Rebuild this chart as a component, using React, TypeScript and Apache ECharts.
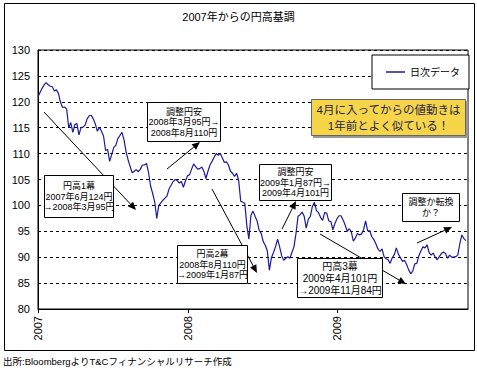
import React, { useEffect, useRef } from "react";
import * as echarts from "echarts";

// ---- data ----
const TITLE = "2007年からの円高基調";
const SERIES_NAME = "日次データ";
const START_DATE = "2007-06-01";
const END_DATE = "2010-04-16";
const STEP_DAYS = 5;
// USD/JPY, sampled every 5 days from START_DATE
const yenRates = [
  121.0, 121.8, 122.6, 123.3, 123.7, 123.3, 123.0, 122.9, 122.1, 122.3,
  121.6, 119.9, 118.9, 119.0, 118.6, 115.0, 116.0, 114.1, 115.6, 115.8,
  113.6, 115.0, 115.1, 115.5, 116.7, 117.3, 117.4, 116.7, 115.7, 114.3,
  115.1, 114.3, 113.4, 110.6, 110.8, 108.5, 109.8, 111.2, 111.6, 112.9,
  113.5, 114.1, 112.7, 110.4, 108.8, 107.5, 106.3, 106.6, 106.9, 106.5,
  107.0, 107.8, 107.8, 108.1, 106.3, 103.7, 102.3, 100.7, 97.5, 100.0,
  100.5, 101.0, 101.4, 101.8, 103.2, 103.9, 104.6, 105.0, 104.8, 104.3,
  104.6, 103.5, 104.7, 105.7, 105.9, 107.0, 108.0, 107.5, 107.0, 107.1,
  107.4, 106.6, 105.2, 106.6, 107.8, 108.5, 109.3, 110.0, 109.7, 110.0,
  109.2, 108.3, 108.4, 107.8, 106.6, 106.2, 105.6, 106.2, 104.8, 100.8,
  100.6, 100.4, 96.0, 93.5, 98.1, 98.9, 97.9, 97.0, 95.2, 94.6,
  93.0, 92.3, 91.2, 87.5, 89.9, 90.9, 92.0, 93.5, 92.0, 90.3,
  89.4, 89.8, 90.1, 89.8, 90.9, 92.0, 94.6, 97.9, 98.2, 98.7,
  97.9, 95.6, 97.3, 97.9, 99.8, 100.6, 99.0, 98.6, 97.7, 97.1,
  98.6, 98.5, 97.0, 96.9, 95.3, 96.5, 97.4, 98.0, 98.0, 97.2,
  96.2, 95.0, 95.5, 94.9, 93.1, 93.7, 94.6, 94.3, 94.5, 95.3,
  97.0, 95.1, 95.1, 94.0, 93.4, 92.6, 91.6, 91.1, 91.6, 90.1,
  89.7, 89.5, 88.8, 89.9, 90.5, 91.8, 90.6, 89.9, 89.2, 89.4,
  88.6, 87.6, 86.8, 87.3, 88.7, 88.8, 90.3, 91.2, 92.0, 91.8,
  92.4, 90.9, 90.4, 90.8, 90.0, 89.5, 90.1, 90.7, 91.0, 90.7,
  89.8, 90.4, 90.0, 90.0, 90.1, 90.4, 92.6, 94.3, 93.6, 93.2,
];
const yearTickDates = ["2007-06-01", "2008-06-01", "2009-06-01"];
const yearTickLabels = ["2007", "2008", "2009"];
const Y_MIN = 80;
const Y_MAX = 130;
const Y_STEP = 5;
const NOTE_LINES = ["4月に入ってからの値動きは", "1年前とよく似ている！"];
const SOURCE_TEXT = "出所:BloombergよりT&Cフィナンシャルリサーチ作成";
const calloutTexts = [
  ["円高1幕", "2007年6月124円", "→2008年3月95円"],
  ["調整円安", "2008年3月95円→", "2008年8月110円"],
  ["調整円安", "2009年1月87円→", "2009年4月101円"],
  ["調整か転換", "か？"],
  ["円高2幕", "2008年8月110円", "→2009年1月87円"],
  ["円高3幕", "2009年4月101円", "→2009年11月84円"],
];

// ---- layout (pixels) ----
const calloutLayout = [
  { x: 44, y: 175, w: 69, h: 42, fs: 9, lh: 10.5 },
  { x: 147, y: 102, w: 73, h: 39, fs: 9, lh: 10.5 },
  { x: 259, y: 164, w: 72, h: 36, fs: 9, lh: 10.5 },
  { x: 402, y: 193, w: 57, h: 28, fs: 9, lh: 11 },
  { x: 177, y: 245, w: 70, h: 38, fs: 9, lh: 10.5 },
  { x: 297, y: 258, w: 85, h: 39, fs: 10, lh: 12 },
];
const arrowLayout = [
  [44, 112, 136, 210],
  [167, 169, 200, 142],
  [282, 229, 296, 201],
  [417, 243, 452, 227],
  [212, 189, 257, 273],
  [320, 234, 406, 284],
];

const FONT = "'Liberation Sans', 'Noto Sans CJK JP', sans-serif";
const DAY = 86400000;
const toTs = (s: string) => Date.parse(s + "T00:00:00Z");

function arrow(x1: number, y1: number, x2: number, y2: number) {
  const dx = x2 - x1;
  const dy = y2 - y1;
  const len = Math.sqrt(dx * dx + dy * dy);
  const ux = dx / len;
  const uy = dy / len;
  const hl = 8;
  const hw = 3.5;
  const bx = x2 - ux * hl;
  const by = y2 - uy * hl;
  return [
    {
      type: "line",
      z: 100,
      shape: { x1, y1, x2: bx, y2: by },
      style: { stroke: "#000", lineWidth: 1 },
    },
    {
      type: "polygon",
      z: 100,
      shape: {
        points: [
          [x2, y2],
          [bx - uy * hw, by + ux * hw],
          [bx + uy * hw, by - ux * hw],
        ],
      },
      style: { fill: "#000" },
    },
  ];
}

export default function App() {
  const ref = useRef<HTMLDivElement>(null);
  useEffect(() => {
    const chart = echarts.init(ref.current!, null, { renderer: "svg" });
    const start = toTs(START_DATE);
    const seriesData = yenRates.map((v, i) => [start + i * STEP_DAYS * DAY, v]);
    const tickTs = yearTickDates.map(toTs);

    const graphics: any[] = [
      {
        type: "rect",
        z: 1,
        shape: { x: 4.5, y: 3.5, width: 470, height: 347 },
        style: { fill: "none", stroke: "#000", lineWidth: 1 },
      },
      {
        type: "text",
        z: 1,
        style: {
          text: SOURCE_TEXT,
          x: 3,
          y: 361,
          verticalAlign: "middle",
          fontSize: 9.5,
          fontFamily: FONT,
          fill: "#000",
        },
      },
      {
        type: "rect",
        z: 99,
        shape: { x: 313, y: 101, width: 155, height: 37 },
        style: { fill: "#9a9a9a" },
      },
      {
        type: "rect",
        z: 100,
        shape: { x: 311.5, y: 99.5, width: 154, height: 36 },
        style: { fill: "#f6d548", stroke: "#666", lineWidth: 1 },
      },
      {
        type: "text",
        z: 101,
        style: {
          text: NOTE_LINES.join("\n"),
          x: 388.5,
          y: 118,
          align: "center",
          verticalAlign: "middle",
          fontSize: 11.5,
          lineHeight: 16,
          fontFamily: FONT,
          fill: "#1f1f4f",
        },
      },
    ];
    arrowLayout.forEach((a) => graphics.push(...arrow(a[0], a[1], a[2], a[3])));
    calloutTexts.forEach((lines, i) => {
      const b = calloutLayout[i];
      graphics.push({
        type: "rect",
        z: 110,
        shape: { x: b.x + 0.5, y: b.y + 0.5, width: b.w, height: b.h },
        style: { fill: "#fff", stroke: "#000", lineWidth: 1 },
      });
      graphics.push({
        type: "text",
        z: 111,
        style: {
          text: lines.join("\n"),
          x: b.x + b.w / 2 + 0.5,
          y: b.y + b.h / 2 + 0.5,
          align: "center",
          verticalAlign: "middle",
          fontSize: b.fs,
          lineHeight: b.lh,
          fontFamily: FONT,
          fill: "#000",
        },
      });
    });

    chart.setOption({
      animation: false,
      backgroundColor: "#fff",
      textStyle: { fontFamily: FONT },
      title: {
        text: TITLE,
        left: "center",
        top: 11,
        padding: 0,
        textStyle: { fontSize: 11, fontWeight: "normal", color: "#000", fontFamily: FONT },
      },
      legend: {
        data: [SERIES_NAME],
        left: 372,
        top: 55,
        orient: "horizontal",
        backgroundColor: "#fff",
        borderColor: "#000",
        borderWidth: 1,
        borderRadius: 0,
        padding: [12, 9, 12, 14],
        icon: "rect",
        itemWidth: 19,
        itemHeight: 1.5,
        textStyle: { fontSize: 10, color: "#000", fontFamily: FONT },
      },
      grid: {
        left: 38,
        top: 50,
        right: 9,
        bottom: 63,
        show: true,
        borderColor: "#000",
        borderWidth: 1,
        backgroundColor: "transparent",
      },
      xAxis: {
        type: "value",
        min: toTs(START_DATE),
        max: toTs(END_DATE),
        axisLine: { show: true, lineStyle: { color: "#000", width: 1 } },
        axisTick: { show: true, customValues: tickTs, length: 4, lineStyle: { color: "#000" } },
        splitLine: { show: false },
        axisLabel: {
          customValues: tickTs,
          rotate: 90,
          margin: 7,
          fontSize: 11,
          color: "#000",
          fontFamily: FONT,
          formatter: (v: number) => {
            const idx = tickTs.indexOf(v);
            return idx >= 0 ? yearTickLabels[idx] : "";
          },
        },
      },
      yAxis: {
        type: "value",
        min: Y_MIN,
        max: Y_MAX,
        interval: Y_STEP,
        axisLine: { show: true, lineStyle: { color: "#000", width: 1 } },
        axisTick: { show: false },
        splitLine: { show: true, lineStyle: { color: "#000", type: [3, 3], width: 1 } },
        axisLabel: { fontSize: 11, color: "#000", margin: 8, fontFamily: FONT },
      },
      series: [
        {
          name: SERIES_NAME,
          type: "line",
          data: seriesData,
          symbol: "none",
          lineStyle: { color: "#1a1a9c", width: 1.2 },
          itemStyle: { color: "#1a1a9c" },
        },
      ],
      graphic: graphics,
    });
    return () => chart.dispose();
  }, []);
  return (
    <div
      ref={ref}
      style={{ position: "fixed", left: 0, top: 0, width: 477, height: 372, background: "#fff" }}
    />
  );
}
